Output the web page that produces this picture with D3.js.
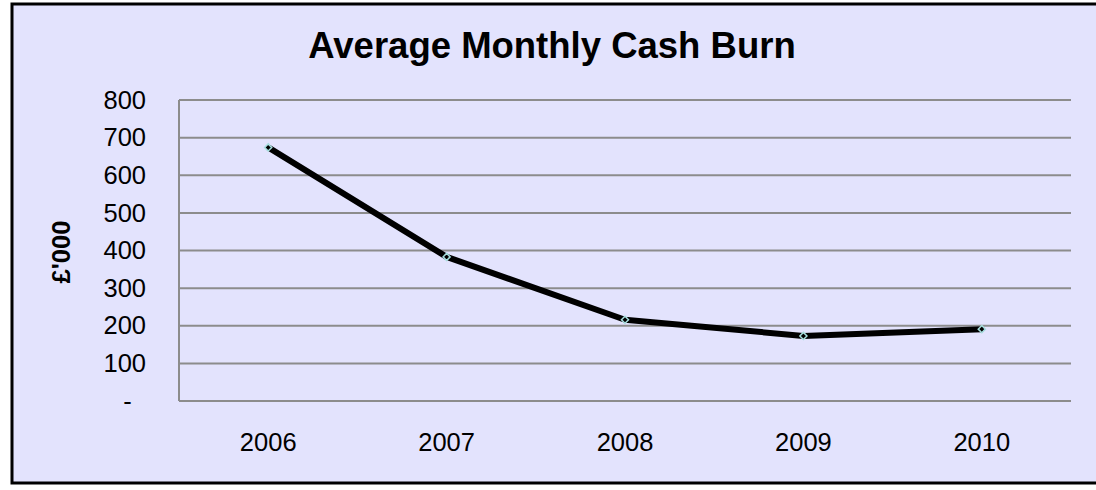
<!DOCTYPE html>
<html lang="en">
<script src="https://d3js.org/d3.v7.min.js"></script>
<style>
    body {margin: 0; background: white;}
    text {font-family: "Liberation Sans", Arial, sans-serif; fill: black;}
    .grid line {stroke: #8c8c8c; stroke-width: 2;}
    .axis path {stroke: #8c8c8c; stroke-width: 2;}
    .axis line {display: none;}
</style>
<body>
    <svg width="1096" height="490"></svg>
</body>
<script>
    var years = ["2006", "2007", "2008", "2009", "2010"];
    var cashBurn = [674, 383, 216, 173, 191];
    var yTicks = [0, 100, 200, 300, 400, 500, 600, 700, 800];

    var svg = d3.select("svg");
    var margin = {left: 179, right: 1071, top: 100, bottom: 401};

    // chart frame
    svg.append("rect")
        .attr("x", 12).attr("y", 4)
        .attr("width", 1100).attr("height", 479)
        .attr("fill", "#e3e3fd")
        .attr("stroke", "black")
        .attr("stroke-width", 3);

    svg.append("text")
        .attr("x", 552).attr("y", 58)
        .attr("text-anchor", "middle")
        .style("font-size", "36.5px")
        .style("font-weight", "bold")
        .text("Average Monthly Cash Burn");

    var x = d3.scaleBand().domain(years).range([margin.left, margin.right]);
    var y = d3.scaleLinear().domain([0, 800]).range([margin.bottom, margin.top]);

    svg.append("g").attr("class", "grid")
        .selectAll("line").data(yTicks.slice(1)).enter().append("line")
        .attr("x1", margin.left).attr("x2", margin.right)
        .attr("y1", function(d){return y(d);})
        .attr("y2", function(d){return y(d);});

    // accounting style: zero shown as a dash
    var yAxis = svg.append("g").attr("class", "axis")
        .attr("transform", "translate(" + margin.left + ",0)")
        .call(d3.axisLeft(y).tickValues(yTicks).tickSize(0).tickPadding(33)
            .tickFormat(function(d){return d === 0 ? "-\u00a0\u00a0" : d;}));
    yAxis.selectAll("text").style("font-size", "25.5px");
    yAxis.select(".domain").attr("d", "M0," + margin.bottom + "V" + margin.top);

    var xAxis = svg.append("g").attr("class", "axis")
        .attr("transform", "translate(0," + margin.bottom + ")")
        .call(d3.axisBottom(x).tickSize(0).tickPadding(32));
    xAxis.selectAll("text").style("font-size", "25.5px");
    xAxis.select(".domain").attr("d", "M" + margin.left + ",0H" + margin.right);

    svg.append("text")
        .attr("transform", "translate(70,252) rotate(-90)")
        .attr("text-anchor", "middle")
        .style("font-size", "25.5px")
        .style("font-weight", "bold")
        .text("£'000");

    var pts = years.map(function(d, i){return [x(d) + x.bandwidth() / 2, y(cashBurn[i])];});

    svg.append("path")
        .attr("d", d3.line()(pts))
        .attr("fill", "none")
        .attr("stroke", "black")
        .attr("stroke-width", 6)
        .attr("stroke-linejoin", "round");

    svg.selectAll(".marker").data(pts).enter().append("path")
        .attr("class", "marker")
        .attr("transform", function(d){return "translate(" + d[0] + "," + d[1] + ")";})
        .attr("d", d3.symbol().type(d3.symbolDiamond2).size(32))
        .attr("fill", "black")
        .attr("stroke", "#a6dede")
        .attr("stroke-width", 1.5);
</script>
</html>
